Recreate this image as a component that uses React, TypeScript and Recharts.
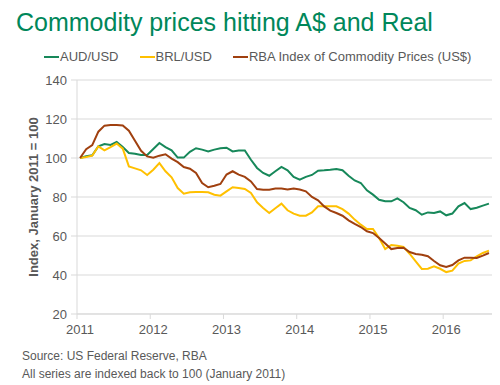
import React from "react"
import { LineChart, Line, XAxis, YAxis, CartesianGrid } from "recharts"

// monthly, Jan 2011 .. Aug 2016 (index 0 = Jan 2011)
const audUsd = [
  100, 100.9, 101.4, 106, 107.2, 106.7, 108.2, 105.6, 102.6, 102.2, 101.5, 101.5,
  104.6, 107.7, 105.6, 103.9, 100.2, 100.2, 103.2, 105, 104.3, 103.4, 104.3, 105,
  105.3, 103.4, 103.8, 103.9, 99.1, 94.9, 92.3, 90.9, 93.2, 95.4, 93.7, 90.3,
  88.9, 90.3, 91.3, 93.5, 93.7, 94, 94.4, 93.7, 90.9, 88.5, 87.2, 83.4,
  81.2, 78.6, 77.8, 77.8, 79.3, 77.3, 74.4, 73.2, 70.9, 72.1, 71.8, 72.6,
  70.6, 71.5, 75.2, 76.9, 73.8, 74.5, 75.6, 76.6,
]

const brlUsd = [
  100, 100.5, 101.2, 106, 103.9, 105.6, 107.4, 104.8, 95.7, 94.7, 93.7, 91.3,
  94, 97.4, 93.2, 90.1, 84.6, 81.7, 82.4, 82.6, 82.6, 82.4, 81.2, 80.7,
  82.9, 85, 84.6, 84.1, 82.1, 77.3, 74.4, 71.8, 74.2, 76.6, 73.2, 71.5,
  70.4, 70.4, 72.1, 75.2, 75.2, 75.2, 75.2, 73.8, 71.5, 68.4, 65.8, 63.6,
  63.6, 59, 53.3, 55.4, 55, 54.4, 50.9, 47, 43.1, 43.2, 44.4, 43.2,
  41.5, 42.2, 45.8, 47.2, 47.5, 49.6, 51.3, 52.5,
]

const rbaIndex = [
  100, 104.5, 106.6, 113.5, 116.6, 116.9, 116.9, 116.7, 114, 108.8, 103.7, 100.8,
  100.2, 101.2, 101.9, 99.7, 97.9, 95.4, 94.5, 92.3, 87.2, 85, 85.8, 86.7,
  91.5, 93.2, 91.5, 90.3, 88, 84.1, 83.7, 83.7, 84.4, 84.3, 83.8, 84.4,
  83.8, 82.9, 80, 78.3, 75.2, 73, 71.8, 70.4, 68, 66.2, 64.6, 62.4,
  61.5, 59, 56.1, 53.3, 53.8, 54, 51.8, 50.8, 50.4, 49.6, 47.2, 45,
  44.1, 45.1, 47.5, 48.9, 48.9, 48.7, 49.9, 51.3,
]

const years = [2011, 2012, 2013, 2014, 2015, 2016]
const yTicks = [20, 40, 60, 80, 100, 120, 140]

const series = [
  { key: "aud", name: "AUD/USD", color: "#17885A" },
  { key: "brl", name: "BRL/USD", color: "#FFC000" },
  { key: "rba", name: "RBA Index of Commodity Prices (US$)", color: "#A0400F" },
]

const data = audUsd.map((v, i) => ({
  m: i,
  aud: v,
  brl: brlUsd[i],
  rba: rbaIndex[i],
}))

// tick lines sit between months (Excel style), labels on the January point
const xTicks = years.map((_, i) => i * 12 - 0.5)

const font = "'Liberation Sans', Arial, sans-serif"
const grey = "#595959"
const lineGrey = "#D9D9D9"

function YearTick(props: any) {
  const { x, y, payload } = props
  const year = years[0] + Math.round((payload.value + 0.5) / 12)
  return (
    <text x={x} y={y} dx={3} dy="0.71em" textAnchor="middle"
      fill={grey} fontSize={13} fontFamily={font}>
      {year}
    </text>
  )
}

export default function App() {
  return (
    <div style={{ position: "absolute", left: 0, top: 0, width: 500, height: 385,
      background: "#fff", fontFamily: font }}>
      <div style={{ position: "absolute", left: 16, top: 8, fontSize: 25,
        color: "#00875A", whiteSpace: "nowrap" }}>
        Commodity prices hitting A$ and Real
      </div>

      <div style={{ position: "absolute", left: 44, top: 49, display: "flex",
        gap: 21, fontSize: 13, color: grey, whiteSpace: "nowrap" }}>
        {series.map((s) => (
          <div key={s.key} style={{ display: "flex", alignItems: "center" }}>
            <span style={{ display: "inline-block", width: 15, height: 2,
              background: s.color, marginRight: 1 }} />
            <span>{s.name}</span>
          </div>
        ))}
      </div>

      <div style={{ position: "absolute", left: 33, top: 197,
        transform: "translate(-50%, -50%) rotate(-90deg)", fontSize: 13,
        fontWeight: "bold", color: grey, whiteSpace: "nowrap" }}>
        Index, January 2011 = 100
      </div>

      <LineChart width={500} height={385} data={data}
        margin={{ top: 80, right: 8, bottom: 41, left: 20 }}>
        <CartesianGrid vertical={false} stroke={lineGrey} />
        <XAxis dataKey="m" type="number" domain={[-0.5, 67.5]} ticks={xTicks}
          interval={0} height={30} stroke={lineGrey} tickSize={5}
          tickMargin={6} tick={<YearTick />} />
        <YAxis domain={[20, 140]} ticks={yTicks} width={57} stroke={lineGrey}
          tickSize={6} tickMargin={4}
          tick={{ fill: grey, fontSize: 13, fontFamily: font }} />
        {series.map((s) => (
          <Line key={s.key} dataKey={s.key} name={s.name} stroke={s.color}
            strokeWidth={2} dot={false} isAnimationActive={false} />
        ))}
      </LineChart>

      <div style={{ position: "absolute", left: 22, top: 348, fontSize: 12,
        lineHeight: "17.5px", color: grey }}>
        <div>Source: US Federal Reserve, RBA</div>
        <div>All series are indexed back to 100 (January 2011)</div>
      </div>
    </div>
  )
}
